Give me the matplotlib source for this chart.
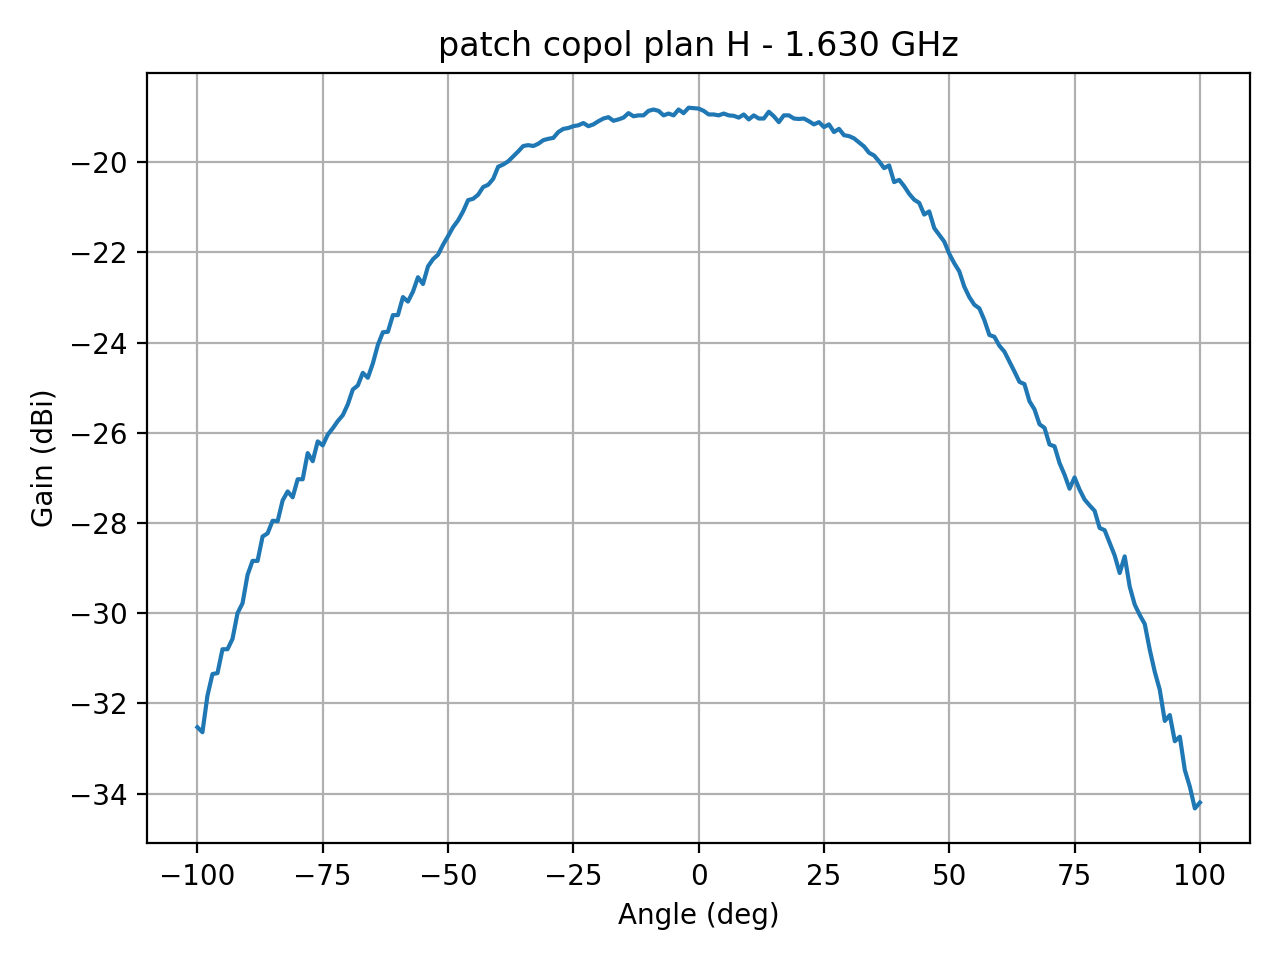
import numpy as np
from matplotlib import pyplot as plt

# angles from -100 to 100 deg, 1 deg step
angle = np.arange(-100, 101, 1)

# gain (dBi)
gain_left = [
    -32.53, -32.64, -31.83, -31.35, -31.33, -30.80, -30.80, -30.57, -30.00, -29.78,
    -29.15, -28.84, -28.84, -28.30, -28.23, -27.95, -27.96, -27.50, -27.30, -27.43,
    -27.03, -27.03, -26.45, -26.63, -26.19, -26.28, -26.04, -25.90, -25.74, -25.61,
    -25.37, -25.04, -24.95, -24.67, -24.78, -24.46, -24.05, -23.77, -23.76, -23.39,
    -23.39, -22.99, -23.09, -22.87, -22.55, -22.70, -22.31, -22.15, -22.05, -21.83,
    -21.64, -21.44, -21.29, -21.09, -20.84, -20.81, -20.72, -20.55, -20.50, -20.37,
    -20.10, -20.05, -19.98, -19.87, -19.76, -19.64, -19.62, -19.64, -19.59, -19.51,
]
gain_center = [
    -19.48, -19.46, -19.33, -19.26, -19.24, -19.20, -19.18, -19.13, -19.20, -19.16,
    -19.09, -19.03, -19.00, -19.08, -19.05, -19.01, -18.91, -18.98, -18.96, -18.96,
    -18.86, -18.83, -18.86, -18.96, -18.92, -18.96, -18.83, -18.91, -18.79, -18.80,
    -18.81, -18.86, -18.94, -18.94, -18.96, -18.92, -18.96, -18.97, -19.01, -18.94,
    -19.05, -18.96, -19.03, -19.03, -18.88, -18.98, -19.11, -18.96, -18.96, -19.03,
    -19.04, -19.03, -19.09, -19.16, -19.11, -19.22, -19.16, -19.33, -19.26, -19.40,
]
gain_right = [
    -19.42, -19.47, -19.56, -19.65, -19.79, -19.85, -19.98, -20.13, -20.07, -20.44,
    -20.39, -20.53, -20.70, -20.83, -20.90, -21.16, -21.09, -21.46, -21.61, -21.76,
    -22.03, -22.24, -22.42, -22.76, -22.99, -23.16, -23.24, -23.50, -23.83, -23.87,
    -24.07, -24.20, -24.42, -24.64, -24.87, -24.92, -25.30, -25.48, -25.81, -25.89,
    -26.26, -26.30, -26.67, -26.93, -27.24, -26.99, -27.26, -27.48, -27.61, -27.73,
    -28.11, -28.16, -28.44, -28.72, -29.11, -28.74, -29.41, -29.81, -30.04, -30.24,
    -30.81, -31.30, -31.70, -32.39, -32.26, -32.84, -32.74, -33.48, -33.85, -34.33,
    -34.20,
]
gain = np.array(gain_left + gain_center + gain_right)

fig = plt.figure(figsize=(6.4, 4.8), dpi=200)
plt.plot(angle, gain)
plt.title("patch copol plan H - 1.630 GHz")
plt.xlabel("Angle (deg)")
plt.ylabel("Gain (dBi)")
plt.grid()
plt.tight_layout()
plt.savefig("out.png")
